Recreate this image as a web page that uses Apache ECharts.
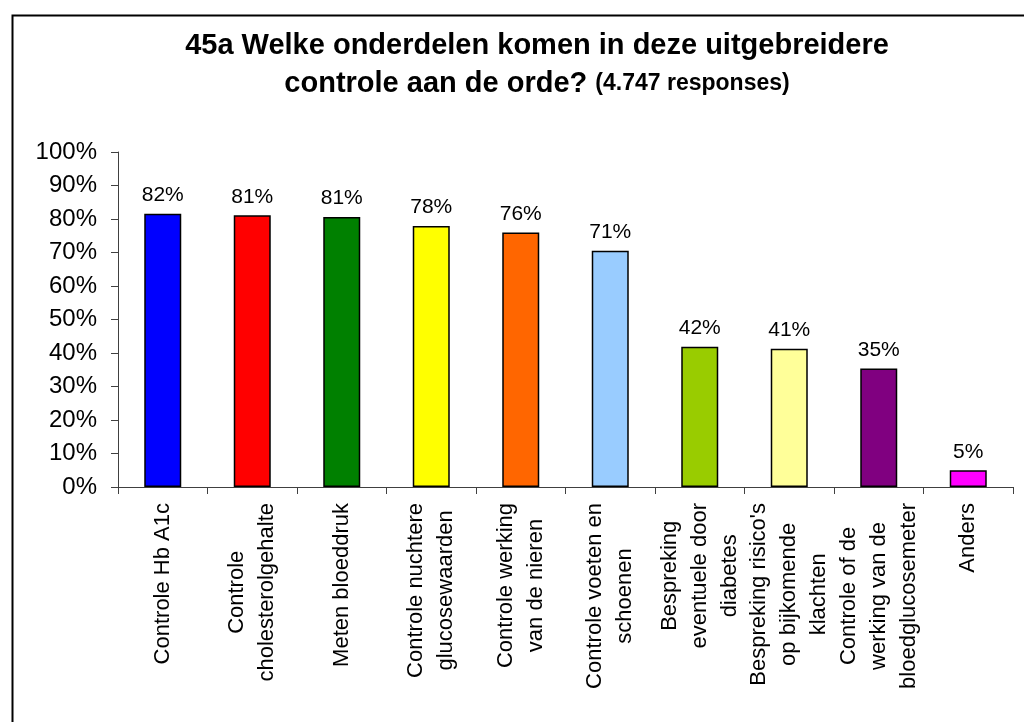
<!DOCTYPE html>
<html>
<head>
<meta charset="utf-8">
<script src="https://cdn.jsdelivr.net/npm/echarts@6/dist/echarts.min.js"></script>
<style>
  html, body { margin: 0; padding: 0; background: #fff; }
  #chart { width: 1024px; height: 722px; }
</style>
</head>
<body>
<div id="chart"></div>
<script>
// categorieen (regels gescheiden met \n zoals in het origineel)
const categories = [
  'Controle Hb A1c',
  'Controle\ncholesterolgehalte',
  'Meten bloeddruk',
  'Controle nuchtere\nglucosewaarden',
  'Controle werking\nvan de nieren',
  'Controle voeten en\nschoenen',
  'Bespreking\neventuele door\ndiabetes',
  "Bespreking risico's\nop bijkomende\nklachten",
  'Controle of de\nwerking van de\nbloedglucosemeter',
  'Anders'
]
const values = [81.6, 81.1, 80.6, 77.9, 76.0, 70.5, 41.9, 41.3, 35.4, 5.0]
const barColors = ['#0000FF', '#FF0000', '#008000', '#FFFF00', '#FF6600',
  '#99CCFF', '#99CC00', '#FFFF99', '#800080', '#FF00FF']
const yTicks = [0, 10, 20, 30, 40, 50, 60, 70, 80, 90, 100]

const font = '"Liberation Sans", Arial, sans-serif'
const chart = echarts.init(document.getElementById('chart'))

const option = {
  backgroundColor: '#fff',
  animation: false,
  title: {
    text: '45a Welke onderdelen komen in deze uitgebreidere\ncontrole aan de orde? {s|(4.747 responses)}',
    left: 532,
    top: 22,
    textAlign: 'center',
    textStyle: {
      fontFamily: font,
      fontSize: 29,
      fontWeight: 'bold',
      color: '#000',
      lineHeight: 38,
      rich: {
        s: { fontFamily: font, fontSize: 23, fontWeight: 'bold', color: '#000', lineHeight: 38 }
      }
    }
  },
  // kader rond de hele figuur
  graphic: [{
    type: 'rect',
    left: 10,
    top: 13,
    shape: { width: 1030, height: 730 },
    style: { fill: 'none', stroke: '#000', lineWidth: 2 },
    z: 100
  }],
  grid: { left: 118, right: 11, top: 152, bottom: 235 },
  xAxis: {
    type: 'category',
    data: categories,
    axisLine: { lineStyle: { color: '#404040', width: 1 } },
    axisTick: { show: true, length: 7, lineStyle: { color: '#404040' } },
    axisLabel: {
      interval: 0,
      rotate: 90,
      margin: 16,
      color: '#000',
      fontFamily: font,
      fontSize: 22,
      formatter: v => v.split('\n').map(l => '{c|' + l + '}').join('\n'),
      rich: {
        c: { align: 'center', fontFamily: font, fontSize: 22, lineHeight: 30, color: '#000' }
      }
    }
  },
  yAxis: {
    type: 'value',
    min: yTicks[0],
    max: yTicks[yTicks.length - 1],
    interval: 10,
    axisLine: { show: true, lineStyle: { color: '#404040', width: 1 } },
    axisTick: { show: true, length: 7, lineStyle: { color: '#404040' } },
    splitLine: { show: false },
    axisLabel: {
      margin: 21,
      color: '#000',
      fontFamily: font,
      fontSize: 24,
      formatter: '{value}%'
    }
  },
  series: [{
    type: 'bar',
    barWidth: 37,
    data: values.map((v, i) => ({
      value: v,
      itemStyle: { color: barColors[i], borderColor: '#000', borderWidth: 1.5 }
    })),
    label: {
      show: true,
      position: 'top',
      distance: 8,
      color: '#000',
      fontFamily: font,
      fontSize: 21,
      formatter: p => Math.round(p.value) + '%'
    }
  }]
}

chart.setOption(option)
window.addEventListener('resize', () => chart.resize())
</script>
</body>
</html>
